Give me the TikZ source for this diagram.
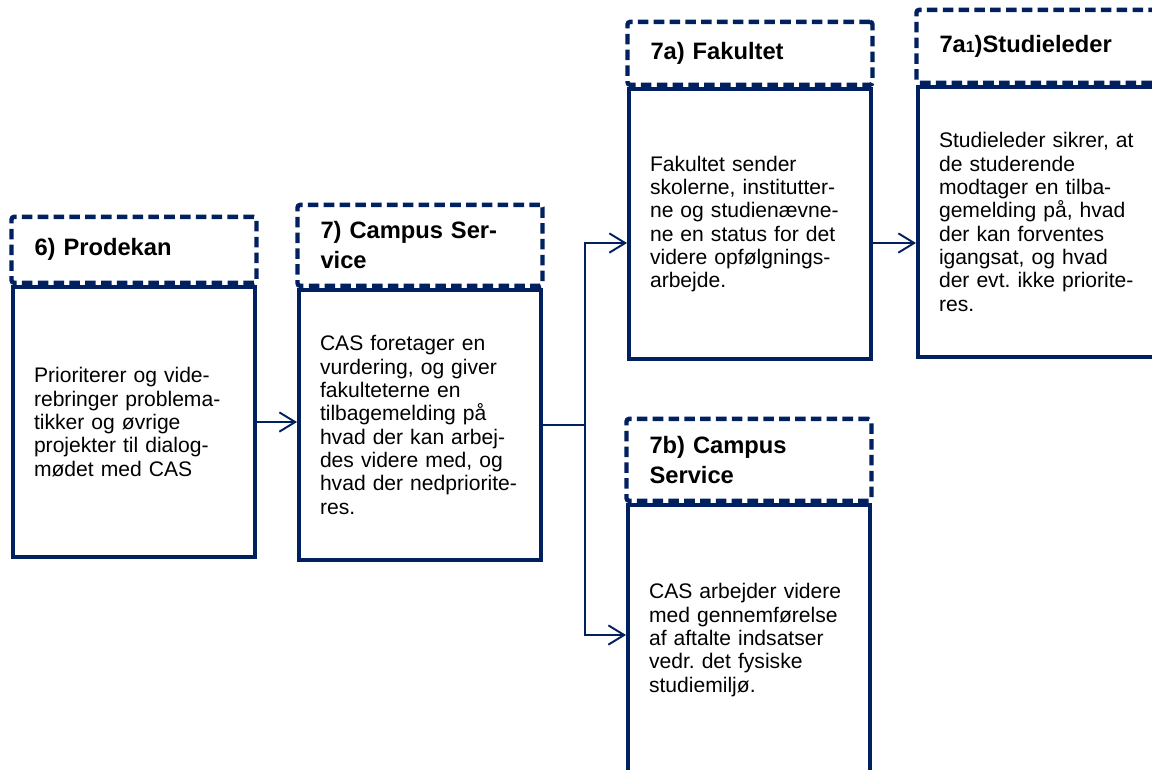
\documentclass[tikz,border=0pt]{standalone}
\usepackage{fontspec}
\setmainfont{Liberation Sans}
\frenchspacing
\usetikzlibrary{arrows.meta,calc,positioning}
\definecolor{navy}{RGB}{0,32,96}
\tikzset{
    body/.style ={rectangle, draw=navy, line width=2.3pt, minimum width=4.84cm, minimum height=5.4cm,
                  inner xsep=0.42cm, text width=4.0cm, align=left, font=\fontsize{12}{13.3}\selectfont},
    head/.style ={rectangle, draw=navy, line width=2.5pt, dash pattern=on 6pt off 3pt, rounded corners=1.5pt,
                  minimum width=4.9cm, inner xsep=0.46cm, text width=3.98cm, align=left,
                  font=\bfseries\fontsize{13.5}{17}\selectfont},
    conn/.style ={draw=navy, line width=1.1pt},
    arr/.style  ={conn, -{Straight Barb[length=9pt,width=11pt]}}
}

\begin{document}
\begin{tikzpicture}[x=0.02cm, y=-0.02cm]
    \fill[white] (0,0) rectangle (1152,769);
    \useasboundingbox (0,0) rectangle (1152,769);

    % 6) Prodekan
    \node[body] (prob) at (134,422) {Prioriterer og vide-\\rebringer problema-\\tikker og øvrige\\projekter til dialog-\\mødet med CAS};
    \node[head, minimum height=1.32cm, above=0pt of prob] (proh) {6) Prodekan};

    % 7) Campus Service
    \node[body] (csb) at (420,425) {CAS foretager en\\vurdering, og giver\\fakulteterne en\\tilbagemelding på\\hvad der kan arbej-\\des videre med, og\\hvad der nedpriorite-\\res.};
    \node[head, minimum height=1.62cm, above=0pt of csb] (csh) {7) Campus Ser-\\vice};

    % 7a) Fakultet
    \node[body] (fakb) at (750,224) {Fakultet sender\\skolerne, institutter-\\ne og studienævne-\\ne en status for det\\videre opfølgnings-\\arbejde.};
    \node[head, minimum height=1.26cm, above=0pt of fakb] (fakh) {7a) Fakultet};

    % 7a1) Studieleder
    \node[body] (studb) at (1039,222) {Studieleder sikrer, at\\de studerende\\modtager en tilba-\\gemelding på, hvad\\der kan forventes\\igangsat, og hvad\\der evt. ikke priorite-\\res.};
    \node[head, minimum height=1.46cm, above=0pt of studb] (studh) {7a{\fontsize{9}{9}\selectfont 1})Studieleder};

    % 7b) Campus Service
    \node[body] (csbb) at (749,640) {CAS arbejder videre\\med gennemførelse\\af aftalte indsatser\\vedr. det fysiske\\studiemiljø.};
    \node[head, minimum height=1.64cm, above=0pt of csbb] (csbh) {7b) Campus\\Service};

    \coordinate (split) at (585,425);

    \draw[arr] (prob.east) -- (prob.east -| csb.west);
    \draw[conn] (csb.east) -- (split);
    \draw[arr] (split) |- ($(fakb.west)+(0,19)$);
    \draw[arr] (split) |- ($(csbb.west)+(0,-5)$);
    \draw[arr] ($(fakb.east)+(0,19)$) -- ($(studb.west)+(0,21)$);
\end{tikzpicture}
\end{document}
